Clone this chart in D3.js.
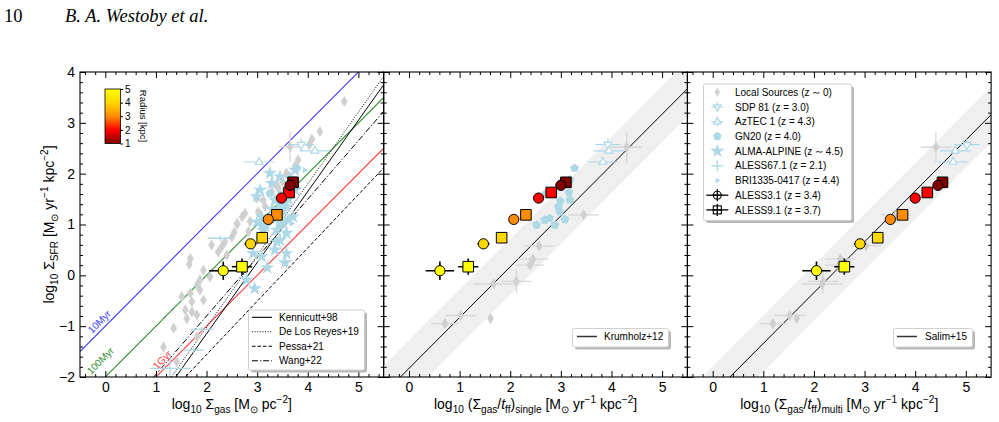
<!DOCTYPE html>
<html>
<head>
<meta charset="utf-8">
<script src="https://cdn.jsdelivr.net/npm/d3@7"></script>
<style>
  body { margin: 0; background: #fff; }
  svg { display: block; font-family: "Liberation Sans", Arial, Helvetica, sans-serif; }
</style>
</head>
<body>
<div id="chart"></div>
<script>
(function () {
    "use strict";

    // ---- data -------------------------------------------------------------
    var xTicks = [0, 1, 2, 3, 4, 5];
    var yTicks = [-2, -1, 0, 1, 2, 3, 4];

    // colour bar (aperture radius, kpc)
    var radiusTicks = [1, 2, 3, 4, 5];
    var radiusColors = ['#800000', '#ff0000', '#ff8c00', '#ffd700', '#ffff00'];

    // ALESS3.1 (circles) and ALESS9.1 (squares), one point per radius
    var alessRadius = [1, 2, 3, 4, 5];
    var aless3Sfr = [1.77, 1.52, 1.10, 0.62, 0.09];
    var aless3Gas = [3.65, 3.48, 3.22, 2.87, 2.33];
    var aless3Single = [3.00, 2.56, 2.07, 1.47, 0.61];
    var aless3Multi = [4.45, 4.00, 3.51, 2.91, 2.05];
    var aless3XErr = [0.04, 0.05, 0.07, 0.12, 0.28];
    var aless3YErr = [0.03, 0.03, 0.04, 0.06, 0.18];
    var aless9Sfr = [1.83, 1.63, 1.19, 0.74, 0.17];
    var aless9Gas = [3.71, 3.63, 3.39, 3.10, 2.70];
    var aless9Single = [3.10, 2.81, 2.31, 1.83, 1.17];
    var aless9Multi = [4.54, 4.24, 3.75, 3.26, 2.60];
    var aless9XErr = [0.04, 0.05, 0.07, 0.10, 0.20];
    var aless9YErr = [0.03, 0.03, 0.04, 0.06, 0.16];

    // local sources, Sigma_gas vs Sigma_SFR
    var localGas = [4.72, 4.24, 4.08, 4.03, 3.81, 3.75, 3.58, 3.62, 3.42, 3.29, 3.38, 3.12,
        3.16, 3.02, 2.99, 2.86, 2.83, 2.61, 2.76, 2.60, 2.70, 2.36, 2.10, 2.30, 2.40, 2.23,
        1.68, 1.66, 2.07, 1.87, 1.81, 1.94, 1.87, 1.68, 1.94, 1.51, 1.71, 1.58, 1.71, 1.81,
        1.61, 1.35, 1.81, 1.15, 1.41, 2.50, 2.55, 3.50];
    var localSfr = [3.42, 2.83, 2.68, 2.57, 2.27, 2.15, 2.01, 1.95, 1.71, 1.65, 1.80, 1.48,
        1.35, 1.25, 1.52, 1.06, 0.86, 1.01, 1.22, 1.02, 1.15, 0.66, 0.60, 0.56, 0.40, 0.46,
        0.33, 0.22, -0.03, -0.09, -0.19, 0.10, -0.29, -0.35, -0.49, -0.42, -0.52, -0.68, -0.72, -0.78,
        -0.85, -1.04, -1.21, -1.41, -1.70, 0.75, 0.85, 1.85];
    // the local source with large uncertainties
    var localBigGas = [3.65];
    var localBigSfr = [2.53];

    // local sources with free-fall times
    var ffSfr = [2.52, 1.19, 0.58, 0.32, 0.20, -0.12, -0.17, -0.79, -0.95, -0.85];
    var ffSingle = [4.30, 3.45, 2.57, 2.45, 2.39, 2.12, 1.67, 1.02, 0.71, 1.61];
    var ffMulti = [4.41, 3.62, 3.03, 2.52, 2.49, 2.18, 2.16, 1.52, 1.19, 1.66];
    var ffXErr = [0.30, 0.30, 0.30, 0.30, 0.28, 0.30, 0.40, 0.30, 0.27, 0];
    var ffYErr = [0.30, 0.05, 0.05, 0.08, 0.08, 0.23, 0.10, 0.05, 0.05, 0];

    // high-z sources
    var sdpSfr = [2.57], sdpGas = [3.87], sdpSingle = [3.93], sdpMulti = [5.02];
    var aztecSfr = [2.45, 2.23], aztecGas = [4.14, 3.04], aztecSingle = [3.95, 3.83], aztecMulti = [4.79, 4.75];
    var gn20Sfr = [2.11, 1.88, 1.80, 1.63, 1.61, 1.48, 1.46, 1.35, 1.25, 1.10, 1.12, 1.09, 0.99, 0.99];
    var gn20Gas = [3.78, 3.70, 3.62, 3.65, 3.25, 3.55, 3.50, 3.45, 3.50, 3.62, 3.35, 3.28, 3.45, 3.10];
    var gn20Single = [3.27, 3.18, 3.10, 3.16, 2.71, 3.18, 2.99, 2.95, 2.98, 3.08, 2.78, 2.68, 2.88, 2.52];
    var alpineGas = [3.75, 3.65, 3.45, 3.25, 3.29, 3.52, 3.75, 3.35, 3.06, 2.99, 3.58, 3.45, 3.71,
        3.09, 3.52, 3.16, 3.39, 3.12, 3.58, 3.45, 3.39, 3.35, 3.58, 2.92, 3.09, 2.79, 2.95, 3.20,
        3.45, 3.30, 3.62, 3.00, 3.55];
    var alpineSfr = [2.07, 1.91, 1.94, 2.01, 1.81, 1.61, 1.68, 1.48, 1.68, 1.55, 1.35, 1.22, 1.15,
        1.15, 1.02, 0.96, 0.89, 0.89, 0.83, 0.69, 0.66, 0.50, 0.43, 0.43, 0.37, -0.09, -0.26, 0.15,
        1.40, 1.30, 1.50, 1.05, 0.25];
    var aless67Gas = [2.27, 1.91, 1.74, 1.28];
    var aless67Sfr = [0.73, -1.06, -1.47, -1.83];
    var aless67XErr = [0.25, 0.23, 0.20, 0.40];
    var aless67YErr = [0.06, 0.05, 0.05, 0.28];
    var briGas = [3.94, 3.80, 3.68, 3.55];
    var briSfr = [2.07, 1.72, 1.02, 0.78];

    // relations: constant depletion times (slope 1) and literature fits
    var depletionNames = ['10Myr', '100Myr', '1Gyr'];
    var depletionOffsets = [-1, -2, -3];
    var relNames = ['Kennicutt+98', 'De Los Reyes+19', 'Pessa+21', 'Wang+22'];
    var relSlopes = [1.40, 1.41, 1.05, 1.15];
    var relIntercepts = [-3.95, -3.84, -3.66, -3.10];
    var krumholzOffset = -1.83;
    var salimOffset = -2.34;
    var bandHalfWidth = 0.55;

    var legendNames = ['Local Sources (z \u223c 0)', 'SDP 81 (z = 3.0)', 'AzTEC 1 (z = 4.3)',
        'GN20 (z = 4.0)', 'ALMA-ALPINE (z \u223c 4.5)', 'ALESS67.1 (z = 2.1)',
        'BRI1335-0417 (z = 4.4)', 'ALESS3.1 (z = 3.4)', 'ALESS9.1 (z = 3.7)'];

    // ---- layout -----------------------------------------------------------
    var W = 999, H = 422;
    var top = 72, bottom = 377, left = 80, panelW = 303.7;
    var lightBlue = '#add8e6', gray = '#d0d0d0';
    var dashes = [null, '1,1.6', '3.5,2', '6,2,1.2,2'];
    var depletionColors = ['#3a3aff', '#2f8f2f', '#ff3a3a'];

    var svg = d3.select('#chart').append('svg').attr('width', W).attr('height', H);
    var defs = svg.append('defs');

    var y = d3.scaleLinear().domain([-2, 4]).range([bottom, top]);
    var color = d3.scaleLinear().domain(radiusTicks).range(radiusColors);
    var line = d3.line();

    function xScale(i) {
        return d3.scaleLinear().domain([-0.5, 5.5])
            .range([left + i * panelW, left + (i + 1) * panelW]);
    }

    function richText(sel, parts, size) {
        var cur = 0;
        parts.forEach(function (p) {
            var s = p[1] || '';
            var shift = s === 'sub' ? size * 0.3 : (s === 'sup' ? -size * 0.42 : 0);
            var ts = sel.append('tspan').text(p[0]).attr('dy', shift - cur);
            if (s === 'sub' || s === 'sup') ts.attr('font-size', size * 0.72);
            if (s === 'it') ts.attr('font-style', 'italic');
            cur = shift;
        });
    }

    // marker shapes
    function diamond() { return 'M0,-5.6L3.4,0L0,5.6L-3.4,0Z'; }
    function polygon(n, r, rot) {
        return 'M' + d3.range(n).map(function (k) {
            var a = (rot + k * 360 / n) * Math.PI / 180;
            return [r * Math.cos(a), r * Math.sin(a)].join(',');
        }).join('L') + 'Z';
    }
    var star = d3.symbol(d3.symbolStar, 62)();

    function errH(g, x, xv, yv, e, c, w) {
        g.append('line').attr('x1', x(xv - e)).attr('x2', x(xv + e))
            .attr('y1', y(yv)).attr('y2', y(yv)).attr('stroke', c).attr('stroke-width', w);
    }
    function errV(g, x, xv, yv, e, c, w) {
        g.append('line').attr('x1', x(xv)).attr('x2', x(xv))
            .attr('y1', y(yv - e)).attr('y2', y(yv + e)).attr('stroke', c).attr('stroke-width', w);
    }
    function marks(g, x, xs, ys, path, attrs) {
        var sel = g.selectAll(null).data(xs).enter().append('path')
            .attr('d', path)
            .attr('transform', function (d, i) { return 'translate(' + x(d) + ',' + y(ys[i]) + ')'; });
        Object.keys(attrs).forEach(function (k) { sel.attr(k, attrs[k]); });
        return sel;
    }

    function drawAxes(i, x) {
        var g = svg.append('g');
        var minor = d3.range(-2, 28).filter(function (k) { return k % 5 !== 0; })
            .map(function (k) { return k / 5; });
        var yMinor = d3.range(-9, 20).filter(function (k) { return k % 5 !== 0; })
            .map(function (k) { return k / 5; });
        function style(a) {
            a.select('.domain').remove();
            a.attr('font-family', null).attr('font-size', 14);
            a.selectAll('line').attr('stroke', '#000');
            a.selectAll('text').attr('fill', '#000');
        }
        var x0 = x.range()[0], x1 = x.range()[1];
        g.append('g').attr('transform', 'translate(0,' + bottom + ')')
            .call(d3.axisBottom(x).tickValues(xTicks).tickSize(-6).tickPadding(5)
                .tickFormat(d3.format('d'))).call(style);
        g.append('g').attr('transform', 'translate(0,' + bottom + ')')
            .call(d3.axisBottom(x).tickValues(minor).tickSize(-3).tickFormat('')).call(style);
        g.append('g').attr('transform', 'translate(0,' + top + ')')
            .call(d3.axisTop(x).tickValues(xTicks).tickSize(-6).tickFormat('')).call(style);
        g.append('g').attr('transform', 'translate(0,' + top + ')')
            .call(d3.axisTop(x).tickValues(minor).tickSize(-3).tickFormat('')).call(style);
        g.append('g').attr('transform', 'translate(' + x0 + ',0)')
            .call(d3.axisLeft(y).tickValues(yTicks).tickSize(-6).tickPadding(5)
                .tickFormat(i === 0 ? d3.format('d') : '')).call(style);
        g.append('g').attr('transform', 'translate(' + x0 + ',0)')
            .call(d3.axisLeft(y).tickValues(yMinor).tickSize(-3).tickFormat('')).call(style);
        g.append('g').attr('transform', 'translate(' + x1 + ',0)')
            .call(d3.axisRight(y).tickValues(yTicks).tickSize(-6).tickFormat('')).call(style);
        g.append('g').attr('transform', 'translate(' + x1 + ',0)')
            .call(d3.axisRight(y).tickValues(yMinor).tickSize(-3).tickFormat('')).call(style);
        g.append('rect').attr('x', x0).attr('y', top).attr('width', x1 - x0)
            .attr('height', bottom - top).attr('fill', 'none').attr('stroke', '#000')
            .attr('stroke-width', 1.1);
    }

    function panelGroup(i, x) {
        defs.append('clipPath').attr('id', 'clip' + i).append('rect')
            .attr('x', x.range()[0]).attr('y', top)
            .attr('width', panelW).attr('height', bottom - top);
        return svg.append('g').attr('clip-path', 'url(#clip' + i + ')');
    }

    function drawBand(g, x, off) {
        var xa = -0.5, xb = 5.5;
        var pts = [[xa, xa + off - bandHalfWidth], [xb, xb + off - bandHalfWidth],
            [xb, xb + off + bandHalfWidth], [xa, xa + off + bandHalfWidth]]
            .map(function (p) { return [x(p[0]), y(p[1])]; });
        g.append('path').attr('d', line(pts) + 'Z').attr('fill', '#efefef');
        g.append('path').attr('d', line([[x(xa), y(xa + off)], [x(xb), y(xb + off)]]))
            .attr('stroke', '#000').attr('stroke-width', 1).attr('fill', 'none');
    }

    function drawLocalFF(g, x, xs) {
        xs.forEach(function (v, k) {
            if (ffXErr[k]) errH(g, x, v, ffSfr[k], ffXErr[k], '#d8d8d8', 1.3);
            if (ffYErr[k]) errV(g, x, v, ffSfr[k], ffYErr[k], '#d8d8d8', 1.3);
        });
        marks(g, x, xs, ffSfr, diamond(), { fill: gray });
    }

    function drawHighZTri(g, x, sx, ax) {
        sx.forEach(function (v, k) {
            errH(g, x, v, sdpSfr[k], 0.25, lightBlue, 1.2);
            errV(g, x, v, sdpSfr[k], 0.12, lightBlue, 1.2);
        });
        ax.forEach(function (v, k) {
            errH(g, x, v, aztecSfr[k], 0.3, lightBlue, 1.2);
            errV(g, x, v, aztecSfr[k], 0.05, lightBlue, 1.2);
        });
        marks(g, x, sx, sdpSfr, polygon(3, 4.5, 90), { fill: '#fff', stroke: lightBlue, 'stroke-width': 1.2 });
        marks(g, x, ax, aztecSfr, polygon(3, 4.5, -90), { fill: '#fff', stroke: lightBlue, 'stroke-width': 1.2 });
    }

    function drawAless(g, x, x3, x9) {
        x3.forEach(function (v, k) {
            errH(g, x, v, aless3Sfr[k], aless3XErr[k], '#000', 1.6);
            errV(g, x, v, aless3Sfr[k], aless3YErr[k], '#000', 1.6);
        });
        x9.forEach(function (v, k) {
            errH(g, x, v, aless9Sfr[k], aless9XErr[k], '#000', 1.6);
            errV(g, x, v, aless9Sfr[k], aless9YErr[k], '#000', 1.6);
        });
        marks(g, x, x9, aless9Sfr, 'M-5.3,-5.3H5.3V5.3H-5.3Z', { stroke: '#000', 'stroke-width': 1 })
            .attr('fill', function (d, k) { return color(alessRadius[k]); });
        marks(g, x, x3, aless3Sfr, d3.symbol(d3.symbolCircle, 82)(), { stroke: '#000', 'stroke-width': 1 })
            .attr('fill', function (d, k) { return color(alessRadius[k]); });
    }

    function legendBox(x0, y0, w, h) {
        svg.append('rect').attr('x', x0 + 2.5).attr('y', y0 + 2.5).attr('width', w).attr('height', h)
            .attr('rx', 2).attr('fill', '#b8b8b8');
        svg.append('rect').attr('x', x0).attr('y', y0).attr('width', w).attr('height', h)
            .attr('rx', 2).attr('fill', '#fff').attr('stroke', '#d0d0d0').attr('stroke-width', 1);
    }

    // ---- panel 1: Sigma_gas ---------------------------------------------
    var x1 = xScale(0);
    var g1 = panelGroup(0, x1);
    depletionOffsets.forEach(function (off, k) {
        g1.append('path').attr('d', line([[x1(-0.5), y(-0.5 + off)], [x1(5.5), y(5.5 + off)]]))
            .attr('stroke', depletionColors[k]).attr('stroke-width', 1.1).attr('fill', 'none');
    });
    relSlopes.forEach(function (s, k) {
        g1.append('path')
            .attr('d', line([[x1(-0.5), y(-0.5 * s + relIntercepts[k])], [x1(5.5), y(5.5 * s + relIntercepts[k])]]))
            .attr('stroke', '#000').attr('stroke-width', 1).attr('fill', 'none')
            .attr('stroke-dasharray', dashes[k]);
    });
    var labelPos = [[92, 334], [91, 375], [157, 370]];
    depletionNames.forEach(function (n, k) {
        g1.append('text').attr('transform', 'translate(' + labelPos[k][0] + ',' + labelPos[k][1] + ') rotate(-45)')
            .attr('font-size', 10).attr('fill', depletionColors[k]).text(n);
    });
    marks(g1, x1, localGas, localSfr, diamond(), { fill: gray });
    errH(g1, x1, localBigGas[0], localBigSfr[0], 0.22, '#d8d8d8', 1.3);
    errV(g1, x1, localBigGas[0], localBigSfr[0], 0.3, '#d8d8d8', 1.3);
    marks(g1, x1, localBigGas, localBigSfr, diamond(), { fill: gray });
    marks(g1, x1, alpineGas, alpineSfr, star, { fill: lightBlue });
    marks(g1, x1, gn20Gas, gn20Sfr, polygon(5, 4.6, -90), { fill: lightBlue });
    marks(g1, x1, briGas, briSfr, polygon(3, 3.6, 0), { fill: lightBlue });
    aless67Gas.forEach(function (v, k) {
        errH(g1, x1, v, aless67Sfr[k], aless67XErr[k], lightBlue, 1.3);
        errV(g1, x1, v, aless67Sfr[k], aless67YErr[k], lightBlue, 1.3);
    });
    drawHighZTri(g1, x1, sdpGas, aztecGas);
    drawAless(g1, x1, aless3Gas, aless9Gas);
    drawAxes(0, x1);

    // colour bar
    var grad = defs.append('linearGradient').attr('id', 'cbar')
        .attr('x1', 0).attr('x2', 0).attr('y1', 1).attr('y2', 0);
    radiusTicks.forEach(function (r, k) {
        grad.append('stop').attr('offset', k / (radiusTicks.length - 1)).attr('stop-color', color(r));
    });
    var cb = d3.scaleLinear().domain([1, 5]).range([143.5, 89]);
    svg.append('rect').attr('x', 105).attr('y', 89).attr('width', 15.5).attr('height', 54.5)
        .attr('fill', 'url(#cbar)').attr('stroke', '#000').attr('stroke-width', 0.8);
    var cbAxis = svg.append('g').attr('transform', 'translate(120.5,0)')
        .call(d3.axisRight(cb).tickValues(radiusTicks).tickSize(2.5).tickPadding(2).tickFormat(d3.format('d')));
    cbAxis.select('.domain').remove();
    cbAxis.attr('font-family', null).attr('font-size', 10);
    svg.append('text').attr('transform', 'translate(140,116) rotate(90)')
        .attr('text-anchor', 'middle').attr('font-size', 9.5).text('Radius [kpc]');

    // legend panel 1
    legendBox(248.5, 310, 116, 60);
    relNames.forEach(function (n, k) {
        var yy = 317.3 + k * 14.5;
        svg.append('line').attr('x1', 252).attr('x2', 272).attr('y1', yy).attr('y2', yy)
            .attr('stroke', '#000').attr('stroke-width', 1.1).attr('stroke-dasharray', dashes[k]);
        svg.append('text').attr('x', 279).attr('y', yy + 3.6).attr('font-size', 10).text(n);
    });

    // ---- panel 2: single free-fall ----------------------------------------
    var x2 = xScale(1);
    var g2 = panelGroup(1, x2);
    drawBand(g2, x2, krumholzOffset);
    drawLocalFF(g2, x2, ffSingle);
    marks(g2, x2, gn20Single, gn20Sfr, polygon(5, 4.6, -90), { fill: lightBlue });
    drawHighZTri(g2, x2, sdpSingle, aztecSingle);
    drawAless(g2, x2, aless3Single, aless9Single);
    drawAxes(1, x2);
    legendBox(572.5, 328.5, 96, 18.5);
    svg.append('line').attr('x1', 577).attr('x2', 597).attr('y1', 336.5).attr('y2', 336.5)
        .attr('stroke', '#333').attr('stroke-width', 1.5);
    svg.append('text').attr('x', 604).attr('y', 340).attr('font-size', 10).text('Krumholz+12');

    // ---- panel 3: multi free-fall -----------------------------------------
    var x3 = xScale(2);
    var g3 = panelGroup(2, x3);
    drawBand(g3, x3, salimOffset);
    drawLocalFF(g3, x3, ffMulti);
    drawHighZTri(g3, x3, sdpMulti, aztecMulti);
    drawAless(g3, x3, aless3Multi, aless9Multi);
    drawAxes(2, x3);
    legendBox(893.5, 328.5, 79, 18.5);
    svg.append('line').attr('x1', 897).attr('x2', 917).attr('y1', 336.5).attr('y2', 336.5)
        .attr('stroke', '#333').attr('stroke-width', 1.5);
    svg.append('text').attr('x', 925).attr('y', 340).attr('font-size', 10).text('Salim+15');

    // legend panel 3
    legendBox(703.5, 84, 148, 136.5);
    var lx = 717.3;
    legendNames.forEach(function (n, k) {
        var yy = 92.3 + k * 14.7;
        var lg = svg.append('g').attr('transform', 'translate(' + lx + ',' + yy + ')');
        if (k === 0) lg.append('path').attr('d', diamond()).attr('fill', gray).attr('transform', 'scale(0.8)');
        if (k === 1 || k === 2) {
            lg.append('line').attr('x1', -6).attr('x2', 6).attr('stroke', lightBlue).attr('stroke-width', 1.2);
            lg.append('line').attr('y1', -5).attr('y2', 5).attr('stroke', lightBlue).attr('stroke-width', 1.2);
            lg.append('path').attr('d', polygon(3, 4.2, k === 1 ? 90 : -90))
                .attr('fill', '#fff').attr('fill-opacity', 0.6).attr('stroke', lightBlue).attr('stroke-width', 1.2);
        }
        if (k === 3) lg.append('path').attr('d', polygon(5, 4.6, -90)).attr('fill', lightBlue);
        if (k === 4) lg.append('path').attr('d', star).attr('fill', lightBlue);
        if (k === 5) {
            lg.append('line').attr('x1', -6).attr('x2', 6).attr('stroke', lightBlue).attr('stroke-width', 1.3);
            lg.append('line').attr('y1', -5.5).attr('y2', 5.5).attr('stroke', lightBlue).attr('stroke-width', 1.3);
        }
        if (k === 6) lg.append('path').attr('d', polygon(3, 3.2, 0)).attr('fill', lightBlue);
        if (k === 7 || k === 8) {
            lg.append('line').attr('x1', -11).attr('x2', 11).attr('stroke', '#000').attr('stroke-width', 1.3);
            lg.append('line').attr('x1', -5).attr('x2', 5).attr('stroke', '#000').attr('stroke-width', 1.3);
            lg.append('line').attr('y1', -6).attr('y2', 6).attr('stroke', '#000').attr('stroke-width', 1.3);
            if (k === 7) lg.append('circle').attr('r', 4).attr('fill', 'none').attr('stroke', '#000').attr('stroke-width', 1.1);
            else lg.append('rect').attr('x', -4).attr('y', -4).attr('width', 8).attr('height', 8)
                .attr('fill', 'none').attr('stroke', '#000').attr('stroke-width', 1.1);
        }
        svg.append('text').attr('x', 735).attr('y', yy + 3.6).attr('font-size', 10).text(n);
    });

    // ---- axis titles -------------------------------------------------------
    var fs = 14;
    richText(svg.append('text').attr('x', x1(2.5)).attr('y', 409).attr('text-anchor', 'middle').attr('font-size', fs),
        [['log'], ['10', 'sub'], [' \u03a3'], ['gas', 'sub'], [' [M'], ['\u2299', 'sub'], [' pc'], ['\u22122', 'sup'], [']']], fs);
    richText(svg.append('text').attr('x', x2(2.5)).attr('y', 409).attr('text-anchor', 'middle').attr('font-size', fs),
        [['log'], ['10', 'sub'], [' (\u03a3'], ['gas', 'sub'], ['/'], ['t', 'it'], ['ff', 'sub'], [')'], ['single', 'sub'],
            [' [M'], ['\u2299', 'sub'], [' yr'], ['\u22121', 'sup'], [' kpc'], ['\u22122', 'sup'], [']']], fs);
    richText(svg.append('text').attr('x', x3(2.5)).attr('y', 409).attr('text-anchor', 'middle').attr('font-size', fs),
        [['log'], ['10', 'sub'], [' (\u03a3'], ['gas', 'sub'], ['/'], ['t', 'it'], ['ff', 'sub'], [')'], ['multi', 'sub'],
            [' [M'], ['\u2299', 'sub'], [' yr'], ['\u22121', 'sup'], [' kpc'], ['\u22122', 'sup'], [']']], fs);
    richText(svg.append('text').attr('transform', 'translate(54,' + ((top + bottom) / 2) + ') rotate(-90)')
        .attr('text-anchor', 'middle').attr('font-size', fs),
        [['log'], ['10', 'sub'], [' \u03a3'], ['SFR', 'sub'], [' [M'], ['\u2299', 'sub'], [' yr'], ['\u22121', 'sup'],
            [' kpc'], ['\u22122', 'sup'], [']']], fs);

    // ---- page header -------------------------------------------------------
    svg.append('text').attr('x', 4).attr('y', 22).attr('font-family', '"Liberation Serif", "DejaVu Serif", serif')
        .attr('font-size', 18.5).text('10');
    svg.append('text').attr('x', 65).attr('y', 22).attr('font-family', '"Liberation Serif", "DejaVu Serif", serif')
        .attr('font-style', 'italic').attr('font-size', 18.5).text('B. A. Westoby et al.');
})();
</script>
</body>
</html>
